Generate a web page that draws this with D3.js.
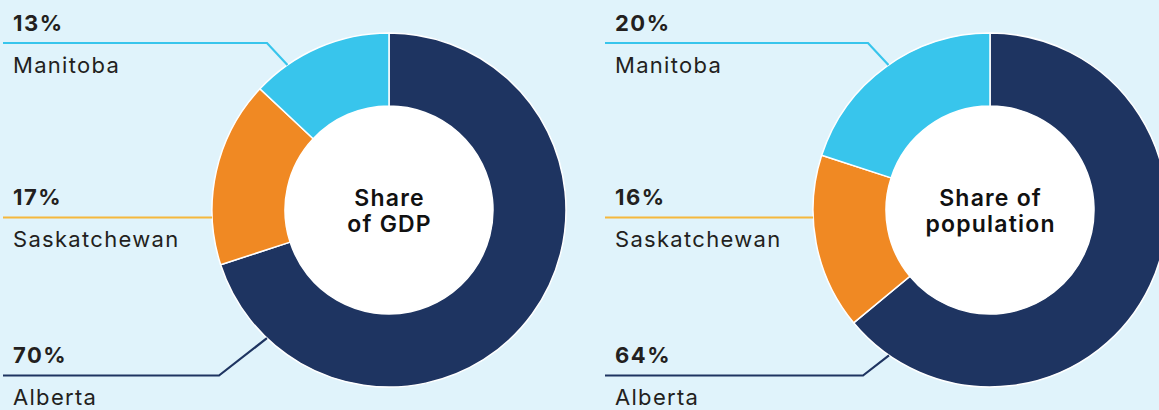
<!DOCTYPE html>
<html>
<head>
<meta charset="utf-8">
<script src="https://cdn.jsdelivr.net/npm/d3@7"></script>
<style>
  html, body { margin: 0; padding: 0; background: #e0f3fb; }
  svg { display: block; font-family: "Inter", "Open Sans", sans-serif; }
</style>
</head>
<body>
<div id="chart"></div>
<script>
// data
const provinces = ["Alberta", "Saskatchewan", "Manitoba"];
const gdpShare = [70, 17, 13];
const popShare = [64, 16, 20];
const chartTitles = [["Share", "of GDP"], ["Share of", "population"]];

const colors = { Alberta: "#1e3461", Saskatchewan: "#f08923", Manitoba: "#38c5ec" };
const lineColors = { Alberta: "#1e3461", Saskatchewan: "#f5b83d", Manitoba: "#38c5ec" };

const W = 1159, H = 410;
const R = 177, r = 104; // outer / inner radius
const CY = 210;

// one entry per donut: centre x, where its labels start, and leader line tweaks
const charts = [
  { values: gdpShare, title: chartTitles[0], cx: 389, lineX: 3, textX: 13,
    leaders: { Manitoba: { ang: 325, elbow: -122 }, Alberta: { ang: 223.6, elbow: -170 } } },
  { values: popShare, title: chartTitles[1], cx: 990, lineX: 605, textX: 615,
    leaders: { Manitoba: { ang: 325, elbow: -122 }, Alberta: { ang: 214.8, elbow: -127 } } }
];

// vertical position of each label row
const rowY = { Manitoba: 43, Saskatchewan: 217.5, Alberta: 375.5 };

const svg = d3.select("#chart")
  .append("svg")
    .attr("width", W)
    .attr("height", H);

svg.append("rect")
  .attr("width", W)
  .attr("height", H)
  .attr("fill", "#e0f3fb");

const pie = d3.pie().sort(null).value(d => d.v);
const arc = d3.arc().innerRadius(r).outerRadius(R);

charts.forEach(c => {
  const data = provinces.map((p, i) => ({ name: p, v: c.values[i] }));
  const g = svg.append("g").attr("transform", `translate(${c.cx}, ${CY})`);

  g.selectAll("path.slice")
    .data(pie(data))
    .join("path")
      .attr("class", "slice")
      .attr("d", arc)
      .attr("fill", d => colors[d.data.name])
      .attr("stroke", "#ffffff")
      .attr("stroke-width", 1.5);

  g.append("circle")
    .attr("r", r)
    .attr("fill", "#ffffff");

  g.append("text")
    .attr("text-anchor", "middle")
    .attr("font-size", 23)
    .attr("font-weight", 600)
    .attr("letter-spacing", 1.2)
    .attr("fill", "#111111")
    .selectAll("tspan")
    .data(c.title)
    .join("tspan")
      .attr("x", 0.6)
      .attr("y", (d, i) => -4 + i * 26)
      .text(d => d);

  // labels + leader lines
  data.forEach(d => {
    const y = rowY[d.name];
    let pts;
    if (c.leaders[d.name]) {
      const L = c.leaders[d.name];
      const a = L.ang * Math.PI / 180;
      const ex = c.cx + Math.sin(a) * R, ey = CY - Math.cos(a) * R;
      pts = [[c.lineX, y], [c.cx + L.elbow, y], [ex, ey]];
    } else {
      const dx = Math.sqrt(R * R - (y - CY) * (y - CY));
      pts = [[c.lineX, y], [c.cx - dx, y]];
    }
    svg.append("path")
      .attr("d", d3.line()(pts))
      .attr("fill", "none")
      .attr("stroke", lineColors[d.name])
      .attr("stroke-width", 2.2);

    svg.append("text")
      .attr("x", c.textX)
      .attr("y", y - 12.5)
      .attr("font-size", 22)
      .attr("font-weight", 700)
      .attr("letter-spacing", 1.5)
      .attr("fill", "#231f20")
      .text(d.v + "%");

    svg.append("text")
      .attr("x", c.textX)
      .attr("y", y + 29.5)
      .attr("font-size", 22)
      .attr("letter-spacing", 1.3)
      .attr("fill", "#231f20")
      .text(d.name);
  });
});
</script>
</body>
</html>
